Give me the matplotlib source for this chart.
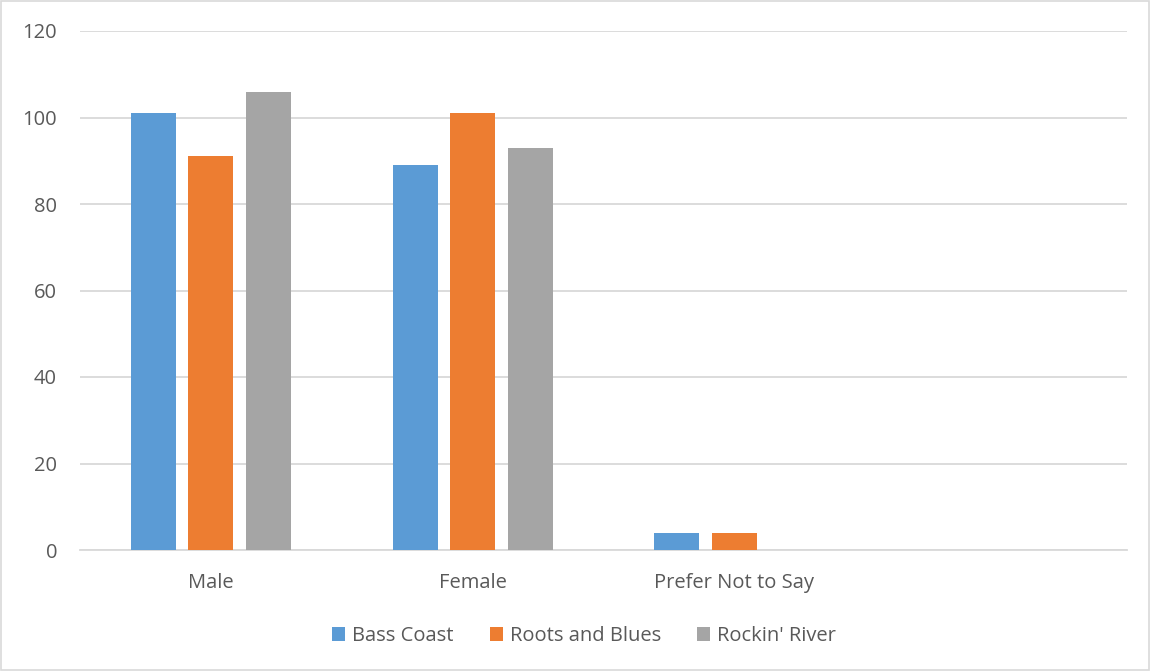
import numpy as np
import matplotlib
matplotlib.use("Agg")
import matplotlib.pyplot as plt
import matplotlib.patches as patches

# data
categories = ["Male", "Female", "Prefer Not to Say", ""]
series_names = ["Bass Coast", "Roots and Blues", "Rockin' River"]
bass_coast = [101, 89, 4, 0]
roots_blues = [91, 101, 4, 0]
rockin_river = [106, 93, 0, 0]
colors = ["#5B9BD5", "#ED7D31", "#A5A5A5"]

plt.rcParams['font.family'] = ['Open Sans', 'DejaVu Sans']

fig = plt.figure(figsize=(11.51, 6.71), dpi=100)
ax = fig.add_axes([80 / 1151, 121 / 671, (1127 - 80) / 1151, (550 - 31) / 671])

x = np.arange(len(categories))
width = 0.172
step = 0.22
for i, (vals, name) in enumerate(zip([bass_coast, roots_blues, rockin_river], series_names)):
    ax.bar(x + (i - 1) * step, vals, width, color=colors[i], label=name, zorder=3)

ax.set_xlim(-0.5, len(categories) - 0.5)
ax.set_ylim(0, 120)
ax.set_yticks(range(0, 121, 20))
ax.set_xticks(x)
ax.set_xticklabels(categories)
ax.grid(axis='y', color='#D9D9D9', linewidth=1.3, zorder=0)
ax.set_axisbelow(True)
for s in ['top', 'right', 'left']:
    ax.spines[s].set_visible(False)
ax.spines['bottom'].set_color('#D9D9D9')
ax.spines['bottom'].set_linewidth(1.3)
ax.tick_params(axis='both', length=0, labelsize=14.5, labelcolor='#595959')
ax.tick_params(axis='y', pad=16.5)
ax.tick_params(axis='x', pad=16.5)

leg = fig.legend(loc='center', bbox_to_anchor=(584 / 1151, 1 - 636 / 671), ncol=3,
                 frameon=False, fontsize=14.5, handlelength=0.65, handleheight=0.65,
                 columnspacing=1.8, handletextpad=0.35)
for t in leg.get_texts():
    t.set_color('#595959')

# light border around the chart area
fig.patches.append(patches.Rectangle((0.001, 0.001), 0.997, 0.997, transform=fig.transFigure,
                                     fill=False, edgecolor='#D9D9D9', linewidth=1.2))

fig.savefig("out.png", dpi=100)
